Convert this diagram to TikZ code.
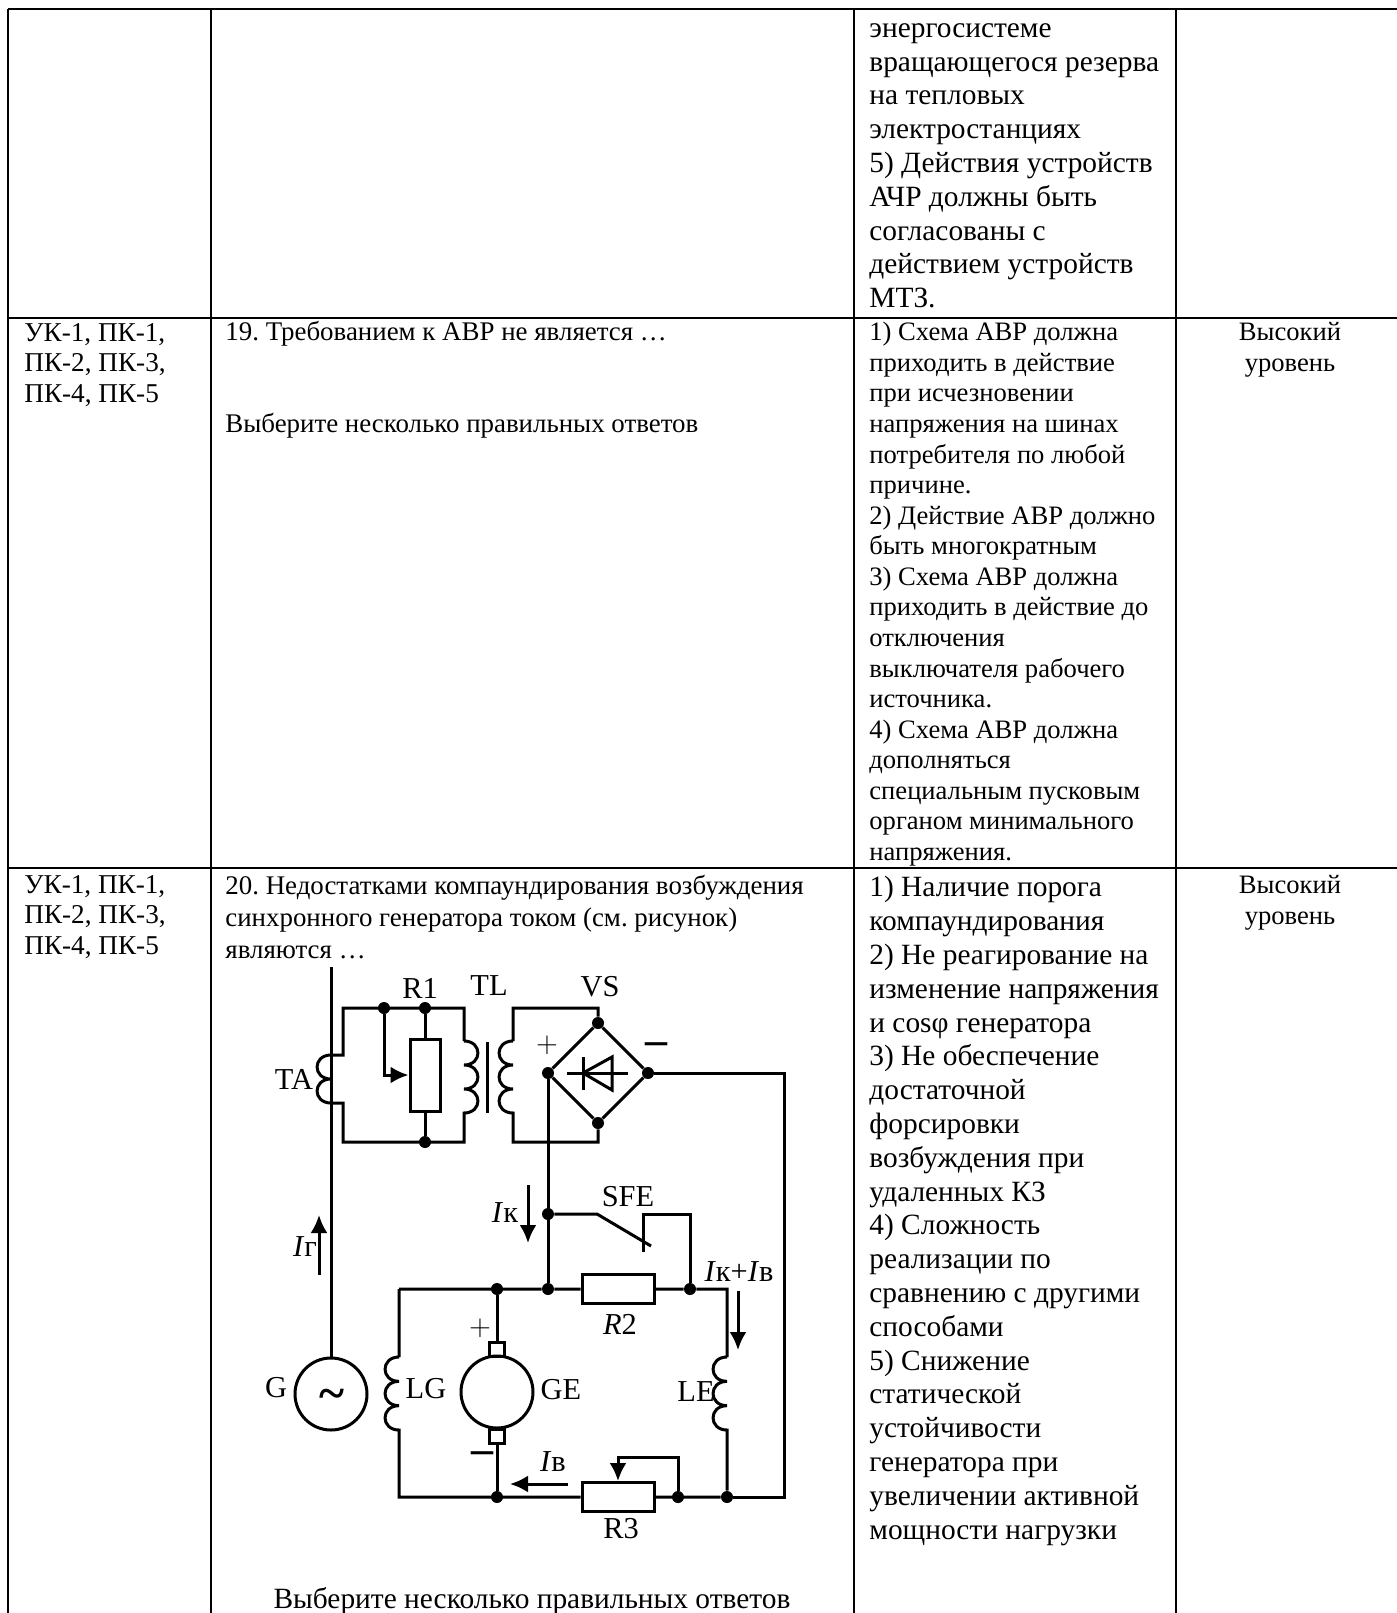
\documentclass[tikz,border=0pt]{standalone}
\usepackage{fontspec}
\setmainfont{Liberation Serif}
\usetikzlibrary{arrows.meta,calc}
\newcommand{\bigtext}{\fontsize{14.7}{16.9}\selectfont}
\newcommand{\smalltext}{\fontsize{13.3}{15.28}\selectfont}
\newcommand{\questtext}{\fontsize{13.45}{15.28}\selectfont}
\newcommand{\comptext}{\fontsize{13.6}{15.28}\selectfont}
\newcommand{\circuittext}{\fontsize{15.2}{16}\selectfont}
\frenchspacing
\begin{document}
\begin{tikzpicture}[
              x=.5pt,
              y=-.5pt,
              grid/.style={line width=1pt},
              wire/.style={line width=1.5pt,line join=miter},
              current/.style={line width=1.5pt,-{Latex[length=9pt,width=8.5pt]}},
              junction/.style={circle,fill,inner sep=0pt,minimum size=6pt},
              rbox/.style={draw,line width=1.5pt,inner sep=0pt},
              machine/.style={draw,circle,line width=1.5pt,inner sep=0pt,minimum size=36pt},
              brush/.style={draw,line width=1.5pt,inner sep=0pt,minimum width=7.5pt,minimum height=7pt},
              cell/.style={anchor=north west,inner sep=0pt,align=left,font=\smalltext},
              bigcell/.style={cell,font=\bigtext},
              levelcell/.style={anchor=north,inner sep=0pt,align=center,font=\smalltext},
              label/.style={inner sep=0pt,font=\circuittext},
              coil/.style={to path={
                  let \p1=(\tikztostart),\p2=(\tikztotarget),\n1={(\y2-\y1)/3} in
                  (\tikztostart)
                  .. controls +(#1,0) and +(#1,0) .. ++(0,\n1)
                  .. controls +(#1,0) and +(#1,0) .. ++(0,\n1)
                  .. controls +(#1,0) and +(#1,0) .. (\tikztotarget)
                }},
              halfcoil/.style={to path={
                  let \p1=(\tikztostart),\p2=(\tikztotarget),\n1={(\y2-\y1)/2} in
                  (\tikztostart)
                  .. controls +(#1,0) and +(#1,0) .. ++(0,\n1)
                  .. controls +(#1,0) and +(#1,0) .. (\tikztotarget)
                }}
            ]
            \useasboundingbox (0,0) rectangle (1397,1613);
            % table
            \foreach \X in {8,211,854,1176}
            \draw[grid] (\X,9) -- (\X,1613);
            \foreach \Y in {9,318,868}
            \draw[grid] (8,\Y) -- (1397,\Y);
            \node[bigcell] (top) at (869,23) {энергосистеме\\вращающегося резерва\\на тепловых\\электростанциях\\5) Действия устройств\\АЧР должны быть\\согласованы с\\действием устройств\\МТЗ.};
            \node[cell,font=\comptext] (comp19) at (24,323) {УК-1, ПК-1,\\ПК-2, ПК-3,\\ПК-4, ПК-5};
            \node[cell,font=\questtext] (quest19) at (225,321) {19. Требованием к АВР не является …\\[\baselineskip]\\[0pt]Выберите несколько правильных ответов};
            \node[cell] (ans19) at (869,322) {1) Схема АВР должна\\приходить в действие\\при исчезновении\\напряжения на шинах\\потребителя по любой\\причине.\\2) Действие АВР должно\\быть многократным\\3) Схема АВР должна\\приходить в действие до\\отключения\\выключателя рабочего\\источника.\\4) Схема АВР должна\\дополняться\\специальным пусковым\\органом минимального\\напряжения.};
            \node[levelcell] (level19) at (1290,322) {Высокий\\уровень};
            \node[cell,font=\comptext] (comp20) at (24,875) {УК-1, ПК-1,\\ПК-2, ПК-3,\\ПК-4, ПК-5};
            \node[cell,font=\fontsize{13.45}{15.9}\selectfont] (quest20) at (225,875) {20. Недостатками компаундирования возбуждения\\синхронного генератора током (см. рисунок)\\являются …};
            \node[bigcell] (ans20) at (869,876) {1) Наличие порога\\компаундирования\\2) Не реагирование на\\изменение напряжения\\и cosφ генератора\\3) Не обеспечение\\достаточной\\форсировки\\возбуждения при\\удаленных КЗ\\4) Сложность\\реализации по\\сравнению с другими\\способами\\5) Снижение\\статической\\устойчивости\\генератора при\\увеличении активной\\мощности нагрузки};
            \node[levelcell] (level20) at (1290,875) {Высокий\\уровень};
            \node[label,font=\bigtext] (select20) at (532,1601) {Выберите несколько правильных ответов};
            % junctions
            \foreach \Name/\Pos in {ra/{384,1008},rb/{425,1008},rc/{425,1142},vt/{598,1023},vl/{548,1073},vr/{648,1073},vb/{598,1123},ks/{548,1214},kp/{548,1289},ke/{497,1289},kq/{690,1289},gb/{497,1497},rr/{678,1497},lb/{727,1497}}
            \node[junction] (\Name) at (\Pos) {};
            % corners
            \foreach \Name/\Pos in {mt/{331,967},ta1/{331,1055},ta2/{331,1103},pa/{343,1008},pb/{343,1142},pc/{464,1008},pd/{464,1142},pe/{464,1041},pf/{464,1113},qa/{513,1008},qb/{513,1142},qe/{513,1041},qf/{513,1113},core1/{487,1042},core2/{487,1113},da/{567,1073},db/{628,1073},ba/{583,1057},bb/{583,1090},tb/{612,1057},tc/{612,1090},tm/{583,1073},oa/{784,1497},sa/{597,1214},sb/{651,1246},sc/{643,1252},sd/{690,1214},la/{399,1289},lc/{399,1357},ld/{399,1430},lf/{399,1497},ri/{727,1289},ci/{727,1357},cj/{727,1430},sl/{618,1457}}
            \coordinate (\Name) at (\Pos);
            % components
            \node[rbox,minimum width=15pt,minimum height=36pt] (R1) at (425,1075) {};
            \node[rbox,minimum width=36pt,minimum height=14.5pt] (R2) at (618,1289) {};
            \node[rbox,minimum width=36pt,minimum height=14.5pt] (R3) at (618,1497) {};
            \node[machine] (G) at (331,1394) {};
            \node[label,font=\fontsize{24}{24}\selectfont\bfseries] (tilde) at (332,1399) {\textasciitilde};
            \node[machine] (GE) at (497,1392) {};
            \node[brush] (bt) at (497,1349) {};
            \node[brush] (bd) at (497,1436) {};
            % wires
            \draw[wire] (mt) -- (G);
            \draw[wire] (ta1) to[halfcoil=-9.3pt] (ta2);
            \draw[wire] (ta1) -| (pa) -- (pc) -- (pe) to[coil=9.3pt] (pf) -- (pd) -- (pb) |- (ta2);
            \draw[wire] (rb) -- (R1) -- (rc);
            \draw[wire] (vt) |- (qa) -- (qe) to[coil=-9.3pt] (qf) -- (qb) -| (vb);
            \draw[wire] (core1) -- (core2);
            \draw[wire] (vt) -- (vr) -- (vb) -- (vl) -- (vt);
            \draw[wire] (da) -- (db);
            \draw[wire] (ba) -- (bb);
            \draw[wire] (tm) -- (tb) -- (tc) -- cycle;
            \draw[wire] (vr) -| (oa) -- (lb);
            \draw[wire] (vl) -- (kp);
            \draw[wire] (ks) -- (sa) -- (sb);
            \draw[wire] (sc) |- (sd) -- (kq);
            \draw[wire] (la) -- (kp) -- (R2) -- (kq) -- (ri) -- (ci) to[coil=-9.3pt] (cj) -- (lb);
            \draw[wire] (la) -- (lc) to[coil=-9.3pt] (ld) -- (lf) -- (R3) -- (lb);
            \draw[wire] (ke) -- (bt);
            \draw[wire] (bd) -- (gb);
            \draw[current] (ra) |- (R1.west);
            \draw[current] (rr) |- (sl) -- (R3.north);
            % currents
            \foreach \Name/\Pos in {ig1/{319,1275},ig2/{319,1215},ik1/{528,1185},ik2/{528,1243},is1/{738,1291},is2/{738,1350},iv1/{568,1484},iv2/{510,1484}}
            \coordinate (\Name) at (\Pos);
            \draw[current] (ig1) -- (ig2);
            \draw[current] (ik1) -- (ik2);
            \draw[current] (is1) -- (is2);
            \draw[current] (iv1) -- (iv2);
            % labels
            \foreach \Name/\Pos/\Text in {lR1/{420,988}/R1,lTL/{489,986}/TL,lVS/{600,987}/VS,lTA/{294,1079}/TA,lSFE/{628,1197}/SFE,lG/{276,1388}/G,lLG/{426,1389}/LG,lGE/{561,1390}/GE,lLE/{696,1392}/LE,lR2/{620,1324}/\textit{R}2,lR3/{621,1529}/R3,lIg/{305,1247}/\textit{I}г,lIk/{505,1213}/\textit{I}к,lIs/{739,1272}/\textit{I}к+\textit{I}в,lIv/{553,1462}/\textit{I}в}
            \node[label] (\Name) at (\Pos) {\Text};
            \foreach \Name/\Pos in {plusv/{547,1045},plusg/{480,1328}}
            \node[label,font=\fontsize{15}{15}\selectfont] (\Name) at (\Pos) {\(+\)};
            \foreach \Name/\Pos in {minusv/{656,1049},minusg/{482,1458}}
            \node[label,font=\fontsize{22}{22}\selectfont\bfseries] (\Name) at (\Pos) {–};
          \end{tikzpicture}
\end{document}
